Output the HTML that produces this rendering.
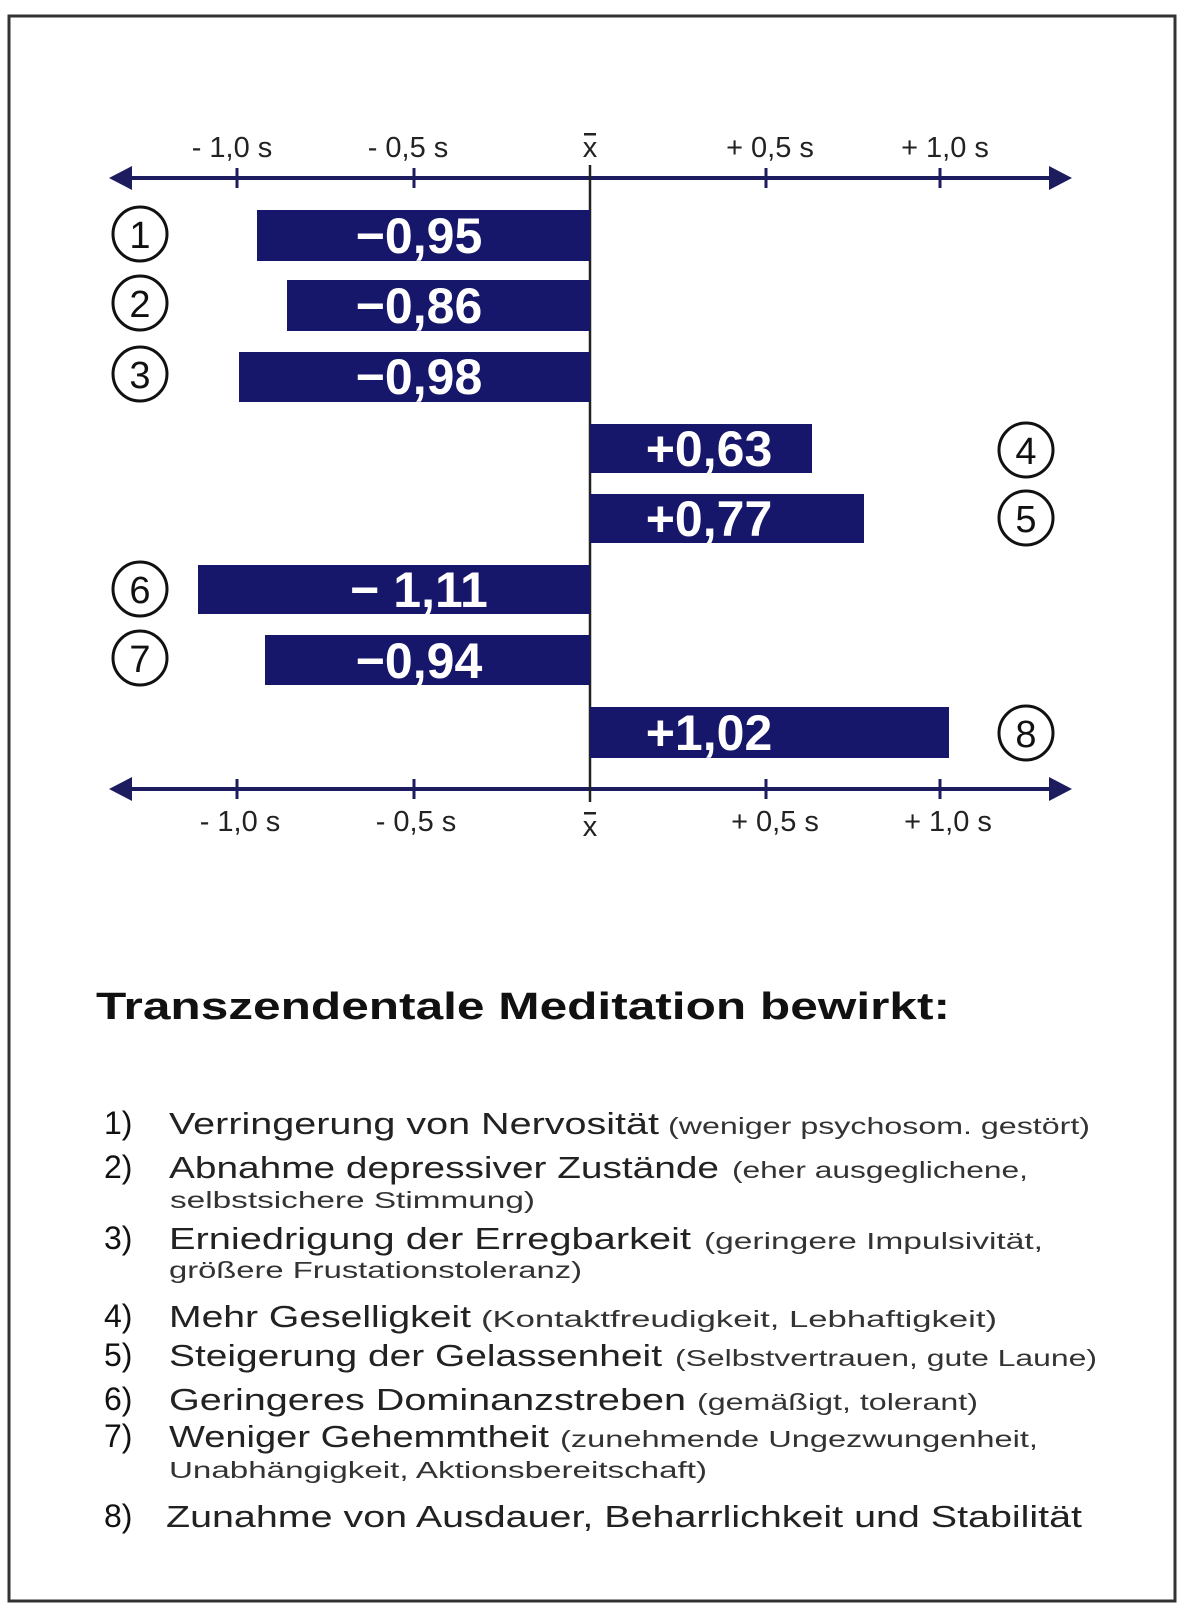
<!DOCTYPE html>
<html><head><meta charset="utf-8"><style>
html,body{margin:0;padding:0;background:#fff;}
svg{display:block;}
text{font-family:"Liberation Sans",sans-serif;}
</style></head><body>
<svg width="1182" height="1616" viewBox="0 0 1182 1616" xmlns="http://www.w3.org/2000/svg">
<rect x="0" y="0" width="1182" height="1616" fill="#fff"/>
<rect x="9" y="16" width="1166" height="1585" fill="none" stroke="#333" stroke-width="3"/>

<g fill="#1c1c5e" stroke="none">
<rect x="120" y="176" width="940" height="4"/>
<polygon points="109,178 132,166 132,190"/>
<polygon points="1072,178 1049,166 1049,190"/>
<rect x="120" y="787" width="940" height="4"/>
<polygon points="109,789 132,777 132,801"/>
<polygon points="1072,789 1049,777 1049,801"/>
</g>
<g stroke="#1c1c5e" stroke-width="3">
<line x1="237" y1="168" x2="237" y2="188"/><line x1="414" y1="168" x2="414" y2="188"/>
<line x1="766" y1="168" x2="766" y2="188"/><line x1="940" y1="168" x2="940" y2="188"/>
<line x1="237" y1="779" x2="237" y2="799"/><line x1="414" y1="779" x2="414" y2="799"/>
<line x1="766" y1="779" x2="766" y2="799"/><line x1="940" y1="779" x2="940" y2="799"/>
</g>
<line x1="590" y1="165" x2="590" y2="802" stroke="#222" stroke-width="2.5"/>

<g font-size="29" fill="#222" text-anchor="middle">
<text x="232" y="157">- 1,0 s</text><text x="408" y="157">- 0,5 s</text>
<text x="590" y="157">x</text><rect x="584" y="133" width="12" height="2.5" fill="#222"/>
<text x="240" y="831">- 1,0 s</text><text x="416" y="831">- 0,5 s</text>
<text x="590" y="836">x</text><rect x="584" y="812" width="12" height="2.5" fill="#222"/>
<text x="770" y="157">+ 0,5 s</text><text x="945" y="157">+ 1,0 s</text>
<text x="775" y="831">+ 0,5 s</text><text x="948" y="831">+ 1,0 s</text>
</g>

<g fill="#16166a">
<rect x="257" y="210" width="333" height="51"/>
<rect x="287" y="280" width="303" height="51"/>
<rect x="239" y="352" width="351" height="50"/>
<rect x="590" y="424" width="222" height="49"/>
<rect x="590" y="494" width="274" height="49"/>
<rect x="198" y="565" width="392" height="49"/>
<rect x="265" y="635" width="325" height="50"/>
<rect x="590" y="707" width="359" height="51"/>
</g>
<g fill="#fff" font-size="50" font-weight="bold" text-anchor="middle">
<text x="419" y="253">−0,95</text>
<text x="419" y="323">−0,86</text>
<text x="419" y="394">−0,98</text>
<text x="709" y="466">+0,63</text>
<text x="709" y="536">+0,77</text>
<text x="419" y="607">− 1,11</text>
<text x="419" y="678">−0,94</text>
<text x="709" y="750">+1,02</text>
</g>

<g fill="none" stroke="#111" stroke-width="3">
<circle cx="140" cy="234" r="27"/><circle cx="140" cy="303" r="27"/><circle cx="140" cy="374" r="27"/>
<circle cx="1026" cy="450" r="27"/><circle cx="1026" cy="518" r="27"/>
<circle cx="140" cy="589" r="27"/><circle cx="140" cy="658" r="27"/>
<circle cx="1026" cy="733" r="27"/>
</g>
<g fill="#111" font-size="38" text-anchor="middle">
<text x="140" y="248">1</text><text x="140" y="317">2</text><text x="140" y="388">3</text>
<text x="1026" y="464">4</text><text x="1026" y="532">5</text>
<text x="140" y="603">6</text><text x="140" y="672">7</text>
<text x="1026" y="747">8</text>
</g>

<text x="96" y="1019" font-size="38" font-weight="bold" fill="#111" textLength="854" lengthAdjust="spacingAndGlyphs">Transzendentale Meditation bewirkt:</text>

<g fill="#111" font-size="32">
<text x="104" y="1134">1)</text><text x="104" y="1178">2)</text><text x="104" y="1249">3)</text>
<text x="104" y="1327">4)</text><text x="104" y="1366">5)</text><text x="104" y="1410">6)</text>
<text x="104" y="1447">7)</text><text x="104" y="1527">8)</text>
</g>
<g fill="#222" font-size="31">
<text x="169" y="1134" textLength="490" lengthAdjust="spacingAndGlyphs">Verringerung von Nervosität</text>
<text x="169" y="1178" textLength="550" lengthAdjust="spacingAndGlyphs">Abnahme depressiver Zustände</text>
<text x="169" y="1249" textLength="522" lengthAdjust="spacingAndGlyphs">Erniedrigung der Erregbarkeit</text>
<text x="169" y="1327" textLength="302" lengthAdjust="spacingAndGlyphs">Mehr Geselligkeit</text>
<text x="169" y="1366" textLength="493" lengthAdjust="spacingAndGlyphs">Steigerung der Gelassenheit</text>
<text x="169" y="1410" textLength="517" lengthAdjust="spacingAndGlyphs">Geringeres  Dominanzstreben</text>
<text x="169" y="1447" textLength="380" lengthAdjust="spacingAndGlyphs">Weniger Gehemmtheit</text>
<text x="166" y="1527" textLength="916" lengthAdjust="spacingAndGlyphs">Zunahme von Ausdauer, Beharrlichkeit und Stabilität</text>
</g>
<g fill="#333" font-size="23">
<text x="668" y="1134" textLength="422" lengthAdjust="spacingAndGlyphs">(weniger psychosom. gestört)</text>
<text x="732" y="1178" textLength="296" lengthAdjust="spacingAndGlyphs">(eher ausgeglichene,</text>
<text x="170" y="1208" textLength="365" lengthAdjust="spacingAndGlyphs">selbstsichere Stimmung)</text>
<text x="704" y="1249" textLength="339" lengthAdjust="spacingAndGlyphs">(geringere Impulsivität,</text>
<text x="169" y="1278" textLength="413" lengthAdjust="spacingAndGlyphs">größere Frustationstoleranz)</text>
<text x="481" y="1327" textLength="516" lengthAdjust="spacingAndGlyphs">(Kontaktfreudigkeit, Lebhaftigkeit)</text>
<text x="675" y="1366" textLength="422" lengthAdjust="spacingAndGlyphs">(Selbstvertrauen, gute Laune)</text>
<text x="697" y="1410" textLength="281" lengthAdjust="spacingAndGlyphs">(gemäßigt, tolerant)</text>
<text x="560" y="1447" textLength="478" lengthAdjust="spacingAndGlyphs">(zunehmende Ungezwungenheit,</text>
<text x="169" y="1478" textLength="538" lengthAdjust="spacingAndGlyphs">Unabhängigkeit, Aktionsbereitschaft)</text>
</g>
</svg>
</body></html>
